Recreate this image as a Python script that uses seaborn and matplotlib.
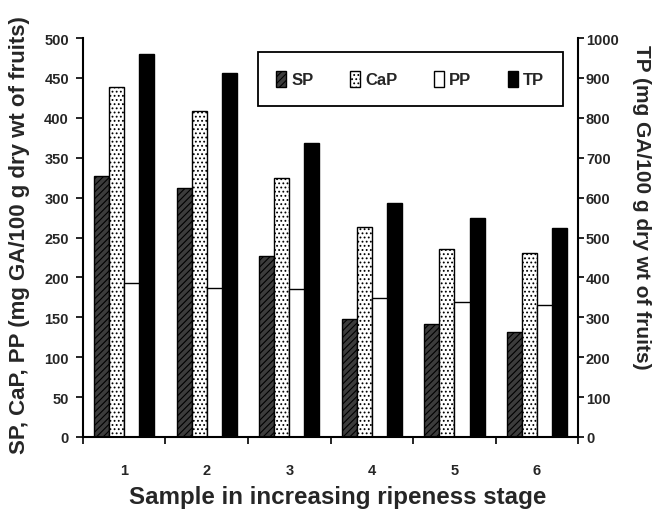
import matplotlib
matplotlib.use("Agg")
import matplotlib.pyplot as plt
import seaborn as sns
import pandas as pd
import numpy as np
from matplotlib.patches import Patch

samples = ["1", "2", "3", "4", "5", "6"]
sp = [327, 312, 227, 148, 142, 131]
cap = [439, 409, 324, 263, 236, 230]
pp = [193, 187, 186, 174, 169, 165]
tp = [960, 912, 738, 587, 548, 524]
series = ["SP", "CaP", "PP", "TP"]
left_ticks = list(range(0, 501, 50))
right_ticks = list(range(0, 1001, 100))

sns.set_theme(style="ticks")
plt.rcParams["font.family"] = ["Liberation Sans", "DejaVu Sans"]
plt.rcParams["font.weight"] = "bold"
plt.rcParams["hatch.linewidth"] = 0.8

tick_font = ["Liberation Sans", "DejaVu Sans"]

rows = []
for s, a, b, c in zip(samples, sp, cap, pp):
    rows += [(s, "SP", a), (s, "CaP", b), (s, "PP", c)]
df_left = pd.DataFrame(rows, columns=["Sample", "series", "value"])
df_right = pd.DataFrame({"Sample": samples, "series": "TP", "value": tp})

fig = plt.figure(figsize=(6.52, 5.10), dpi=100)
ax = fig.add_axes([0.127, 0.1412, 0.76, 0.7823])
ax2 = ax.twinx()

sns.barplot(data=df_left, x="Sample", y="value", hue="series", hue_order=series,
            order=samples, width=0.73, dodge=True, ax=ax, errorbar=None,
            legend=False, gap=0)
sns.barplot(data=df_right, x="Sample", y="value", hue="series", hue_order=series,
            order=samples, width=0.73, dodge=True, ax=ax2, errorbar=None,
            legend=False, gap=0)

styles = {
    "SP": dict(facecolor="#3c3c3c", hatch="/////"),
    "CaP": dict(facecolor="white", hatch="...."),
    "PP": dict(facecolor="white", hatch=None),
    "TP": dict(facecolor="black", hatch=None),
}
left_series = ["SP", "CaP", "PP"]
for cont, name in zip(ax.containers, left_series):
    for p in cont:
        p.set_facecolor(styles[name]["facecolor"])
        p.set_edgecolor("black")
        p.set_linewidth(1.0)
        if styles[name]["hatch"]:
            p.set_hatch(styles[name]["hatch"])
for cont in ax2.containers:
    for p in cont:
        p.set_facecolor("black")
        p.set_edgecolor("black")
        p.set_linewidth(1.0)

ax.set_ylim(0, 500)
ax2.set_ylim(0, 1000)
ax.set_xlim(-0.5, 5.5)
ax.set_yticks(left_ticks)
ax2.set_yticks(right_ticks)
ax.set_yticklabels([str(t) for t in left_ticks], fontsize=10.5, fontweight="bold", family=tick_font)
ax2.set_yticklabels([str(t) for t in right_ticks], fontsize=10.5, fontweight="bold", family=tick_font)

# category boundary ticks on x
ax.set_xticks(np.arange(-0.5, 6.0, 1.0), minor=False)
ax.set_xticklabels([])
ax.set_xticks(np.arange(0, 6), minor=True)
ax.set_xticklabels(samples, minor=True, fontsize=10.5, fontweight="bold", family=tick_font)
ax.tick_params(axis="x", which="minor", length=0, pad=19)
ax.tick_params(axis="x", which="major", length=5, width=1.2, direction="out", color="black")
ax.tick_params(axis="y", length=5, width=1.2, direction="out", color="black", pad=5)
ax2.tick_params(axis="y", length=4, width=1.2, direction="out", color="black", pad=1.5)

for a in (ax, ax2):
    a.spines["top"].set_visible(False)
    for s in ("left", "right", "bottom"):
        a.spines[s].set_color("black")
        a.spines[s].set_linewidth(1.5)
ax.spines["right"].set_visible(False)
ax2.spines["left"].set_visible(False)
ax2.spines["bottom"].set_visible(False)

ax.set_xlabel("Sample in increasing ripeness stage", fontsize=17.4, fontweight="bold", va="center")
ax.xaxis.set_label_coords(0.515, -0.150)
ax.set_ylabel("SP, CaP, PP (mg GA/100 g dry wt of fruits)", fontsize=16, fontweight="bold")
ax.yaxis.set_label_coords(-0.107, 0.509)
ax2.set_ylabel("TP (mg GA/100 g dry wt of fruits)", fontsize=15, fontweight="bold",
               rotation=270, va="center")
ax2.yaxis.set_label_coords(1.127, 0.579)
ax.set_zorder(ax2.get_zorder() + 1)
ax.patch.set_visible(False)

handles = [Patch(facecolor=styles[n]["facecolor"], edgecolor="black",
                 hatch=styles[n]["hatch"], label=n) for n in series]
leg = ax.legend(handles=handles, ncol=4, loc="center",
                bbox_to_anchor=(0.661, 0.897), frameon=True, fancybox=False,
                framealpha=1, handlelength=0.6, handleheight=1.1, handletextpad=0.3,
                columnspacing=2.2, borderpad=1.1,
                prop={"weight": "bold", "size": 12})
leg.get_frame().set_edgecolor("black")
leg.get_frame().set_linewidth(1.3)

fig.savefig("out.png", dpi=100)
